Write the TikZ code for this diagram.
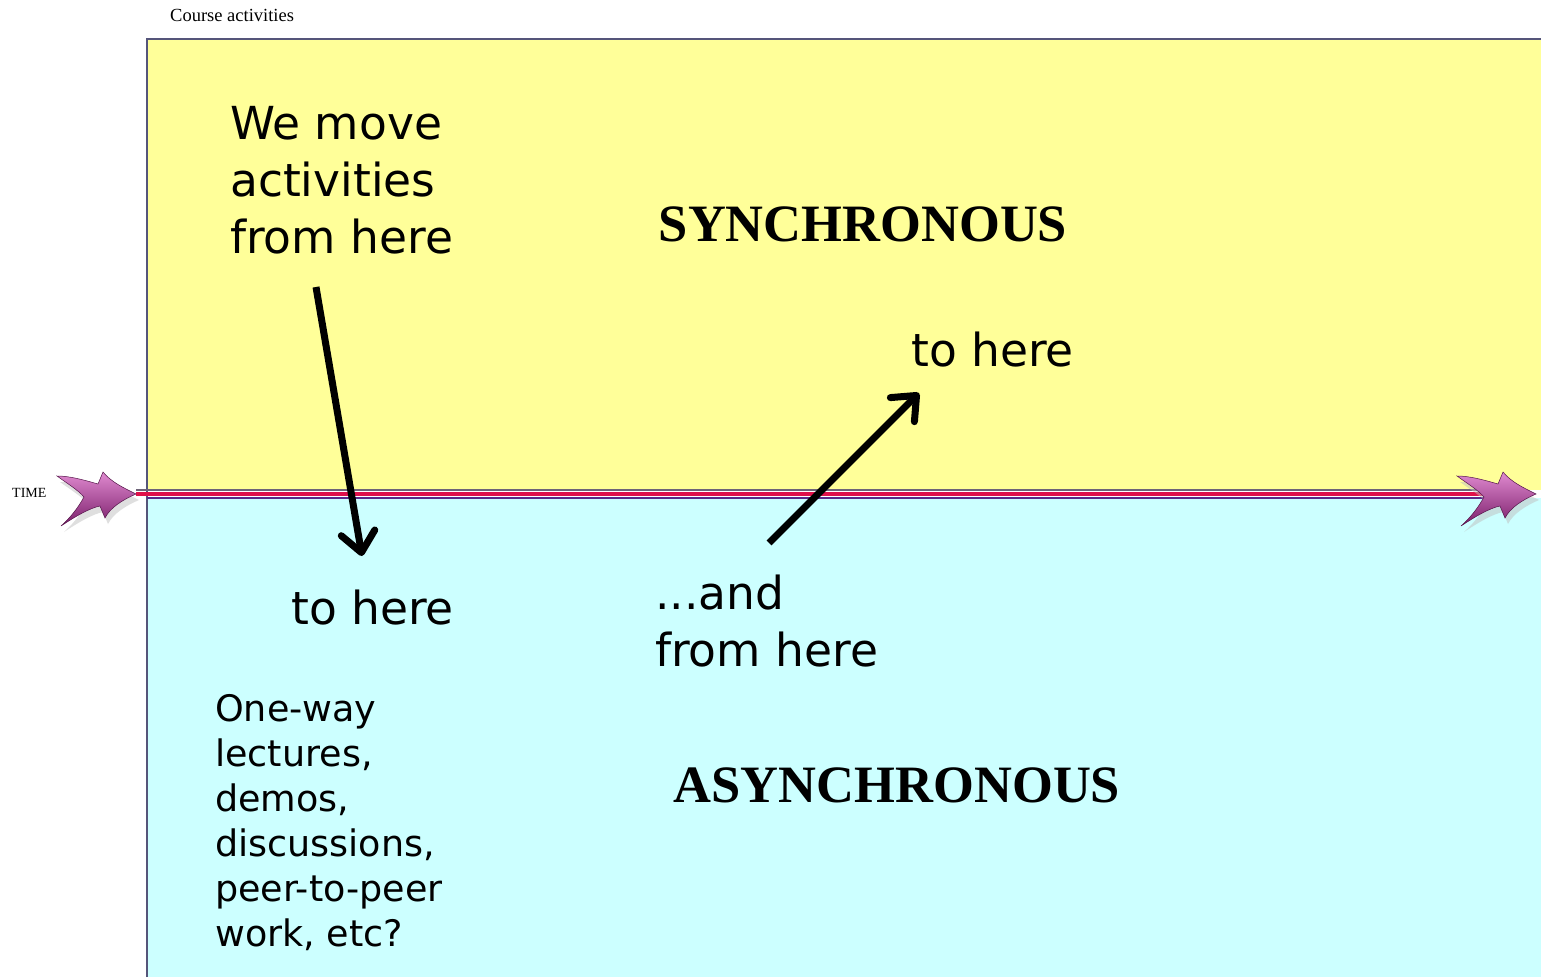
\documentclass[tikz,border=0pt]{standalone}
\usepackage{fontspec}
\setmainfont{Liberation Serif}
\newfontfamily\dejasans{DejaVu Sans}
\usetikzlibrary{arrows.meta}
\definecolor{synyel}{HTML}{FFFF99}
\definecolor{asyncyan}{HTML}{CCFFFF}
\definecolor{bordergray}{HTML}{55557A}
\definecolor{midgray}{HTML}{6E6478}
\definecolor{midred}{HTML}{E0104A}
\definecolor{midpurple}{HTML}{5A2A8A}
\definecolor{arrtop}{HTML}{E08AD0}
\definecolor{arrbot}{HTML}{7A1E6A}
\tikzset{
  bigtext/.style={font=\dejasans\fontsize{45.5}{57}\selectfont, inner sep=0pt, align=left},
  smalltext/.style={font=\dejasans\fontsize{36.5}{45}\selectfont, inner sep=0pt, align=left},
  headtext/.style={font=\bfseries\fontsize{52.5}{60}\selectfont, inner sep=0pt},
  movearrow/.style={line width=7pt, -{Straight Barb[length=20pt,width=34pt,round]}},
  fancyarrow/.pic={
    \fill[black!25, opacity=0.5, shift={(3,6)}] (0,0) .. controls (-12,-6) and (-25,-12) .. (-33,-22)
      -- (-38,-10) .. controls (-52,-14) and (-66,-18) .. (-79,-18)
      .. controls (-68,-10) and (-58,-4) .. (-52,3)
      .. controls (-58,14) and (-66,24) .. (-75,32)
      .. controls (-60,22) and (-46,14) .. (-36,12)
      -- (-31,24) .. controls (-26,14) and (-14,6) .. (0,0) -- cycle;
    \shade[top color=arrtop, bottom color=arrbot, draw=arrbot!70!black, line width=0.5pt]
      (0,0) .. controls (-12,-6) and (-25,-12) .. (-33,-22)
      -- (-38,-10) .. controls (-52,-14) and (-66,-18) .. (-79,-18)
      .. controls (-68,-10) and (-58,-4) .. (-52,3)
      .. controls (-58,14) and (-66,24) .. (-75,32)
      .. controls (-60,22) and (-46,14) .. (-36,12)
      -- (-31,24) .. controls (-26,14) and (-14,6) .. (0,0) -- cycle;
  }
}
\begin{document}
\begin{tikzpicture}[x=1pt, y=-1pt]
\useasboundingbox (0,0) rectangle (1541,977);
% regions
\fill[synyel] (147,39) rectangle (1541,490);
\fill[asyncyan] (147,498) rectangle (1541,977);
\draw[bordergray, line width=1.2pt] (147,977) -- (147,39) -- (1541,39);
% time line
\draw[midgray, line width=2pt] (136,490) -- (1520,490);
\draw[midred, line width=4.5pt] (136,494) -- (1520,494);
\draw[midpurple, line width=1.5pt] (147,498) -- (1520,498);
\pic at (136,494) {fancyarrow};
\pic at (1536,494) {fancyarrow};
% labels
\node[anchor=west, font=\fontsize{18.5}{22}\selectfont, inner sep=0pt] (title) at (170,15) {Course activities};
\node[anchor=west, font=\fontsize{14}{16}\selectfont, inner sep=0pt] (time) at (12,493) {TIME};
\node[headtext] (sync) at (863,224) {SYNCHRONOUS};
\node[headtext] (async) at (897,785) {ASYNCHRONOUS};
\node[bigtext, anchor=north west] (from1) at (230,106) {We move\\activities\\from here};
\node[bigtext, anchor=base west] (to1) at (291,624) {to here};
\node[bigtext, anchor=base west] (to2) at (911,366) {to here};
\node[bigtext, anchor=north west] (from2) at (655,575) {...and\\from here};
\node[smalltext, anchor=north west] (list) at (215,694) {One-way\\lectures,\\demos,\\discussions,\\peer-to-peer\\work, etc?};
% move arrows
\coordinate (a1s) at (316,287);
\coordinate (a1e) at (362,556);
\coordinate (a2s) at (769,543);
\coordinate (a2e) at (919,393);
\draw[movearrow] (a1s) -- (a1e);
\draw[movearrow] (a2s) -- (a2e);
\end{tikzpicture}
\end{document}
